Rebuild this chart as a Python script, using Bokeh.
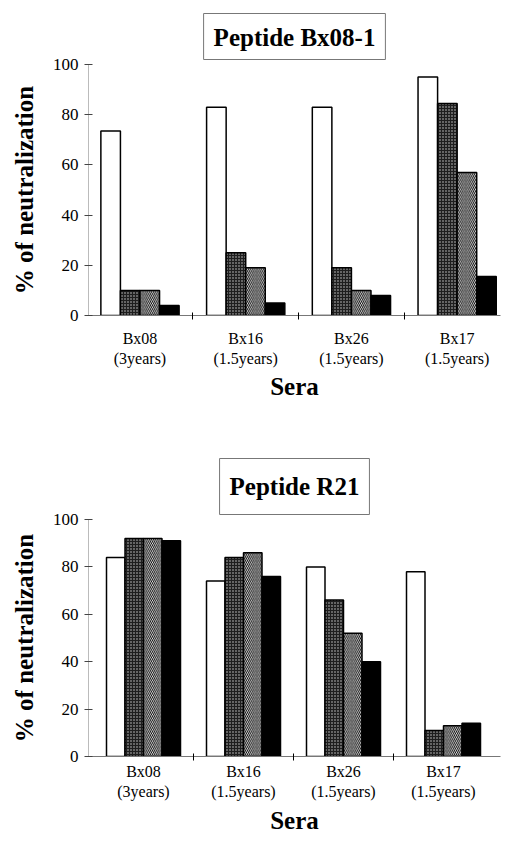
from bokeh.plotting import figure
from bokeh.models import Range1d, FixedTicker, ColumnDataSource, Title
from bokeh.layouts import column
from bokeh.transform import dodge
from bokeh.embed import file_html
from bokeh.resources import INLINE

# ---- data ----
sera = ["Bx08", "Bx16", "Bx26", "Bx17"]
sera_ages = ["(3years)", "(1.5years)", "(1.5years)", "(1.5years)"]
y_ticks = [0, 20, 40, 60, 80, 100]

bx081_white = [73.5, 83, 83, 95]
bx081_dots = [10, 25, 19, 84.5]
bx081_hatch = [10, 19, 10, 57]
bx081_black = [4, 5, 8, 15.5]

r21_white = [84, 74, 80, 78]
r21_dots = [92, 84, 66, 11]
r21_hatch = [92, 86, 52, 13]
r21_black = [91, 76, 40, 14]

FONT = "Liberation Serif"
BW = 0.185


def make_chart(title, white, dots, hatch, black, height, top, bottom, xr,
               label_standoff, xlabel_standoff, title_pad, title_offset, spacer):
    xs = list(range(len(sera)))
    src = ColumnDataSource(dict(x=xs, white=white, dots=dots, hatch=hatch, black=black))
    p = figure(width=504, height=height, output_backend="svg", toolbar_location=None,
               title=None,
               x_range=Range1d(*xr), y_range=Range1d(0, 100),
               min_border_left=88, min_border_right=4,
               min_border_top=top, min_border_bottom=bottom,
               outline_line_color=None, background_fill_color="white")
    p.grid.visible = False

    common = dict(source=src, bottom=0, width=BW, line_color="black", line_width=1.5)
    p.vbar(x=dodge("x", -1.5 * BW), top="white", fill_color="white", **common)
    p.vbar(x=dodge("x", -0.5 * BW), top="dots", fill_color="#1e1e1e",
           hatch_pattern="dot", hatch_color="#cfcfcf", hatch_scale=3, hatch_weight=1.2, **common)
    p.vbar(x=dodge("x", 0.5 * BW), top="hatch", fill_color="white",
           hatch_pattern="left_diagonal_line", hatch_color="black", hatch_scale=3.8,
           hatch_weight=1.0, **common)
    p.vbar(x=dodge("x", 1.5 * BW), top="black", fill_color="black", **common)

    xa = p.xaxis[0]
    xa.ticker = FixedTicker(ticks=xs, minor_ticks=[0.5, 1.5, 2.5])
    xa.major_label_overrides = {i: f"{s}\n{a}" for i, (s, a) in enumerate(zip(sera, sera_ages))}
    xa.major_tick_line_color = None
    xa.major_tick_out = 0
    xa.major_tick_in = 0
    xa.minor_tick_line_color = "black"
    xa.minor_tick_in = 3
    xa.minor_tick_out = 4
    xa.axis_line_color = "#777777"
    xa.major_label_text_font = FONT
    xa.major_label_text_font_size = "16px"
    xa.major_label_text_color = "black"
    xa.major_label_standoff = label_standoff
    xa.axis_label = "Sera"
    xa.axis_label_text_font = FONT
    xa.axis_label_text_font_size = "25px"
    xa.axis_label_text_font_style = "bold"
    xa.axis_label_text_color = "black"
    xa.axis_label_standoff = xlabel_standoff

    ya = p.yaxis[0]
    ya.ticker = FixedTicker(ticks=y_ticks)
    ya.minor_tick_line_color = None
    ya.major_tick_in = 4
    ya.major_tick_out = 4
    ya.major_tick_line_color = "#444444"
    ya.axis_line_color = "#777777"
    ya.axis_line_dash = "1 1"
    ya.major_label_text_font = FONT
    ya.major_label_text_font_size = "17px"
    ya.major_label_text_color = "black"
    ya.major_label_standoff = 6
    ya.axis_label = "% of neutralization"
    ya.axis_label_text_font = FONT
    ya.axis_label_text_font_size = "25px"
    ya.axis_label_text_font_style = "bold"
    ya.axis_label_text_color = "black"
    ya.axis_label_standoff = 12

    t = Title(text=title, align="center", offset=title_offset, text_font=FONT,
              text_font_size="25px", text_font_style="bold", text_color="black",
              border_line_color="#777777", border_line_width=1,
              background_fill_color="white", padding=title_pad)
    p.add_layout(t, "above")
    if spacer:
        sp = Title(text=".", text_font_size=spacer, text_alpha=0.0, standoff=0)
        p.add_layout(sp, "above")
    return p


p1 = make_chart("Peptide Bx08-1", bx081_white, bx081_dots, bx081_hatch, bx081_black,
                height=430, top=64, bottom=115, xr=(-0.487, 3.41),
                label_standoff=10, xlabel_standoff=3,
                title_pad=dict(left=10, right=10, top=10, bottom=9), title_offset=4, spacer=None)
p2 = make_chart("Peptide R21", r21_white, r21_dots, r21_hatch, r21_black,
                height=411, top=89, bottom=85, xr=(-0.55, 3.57),
                label_standoff=2, xlabel_standoff=4,
                title_pad=dict(left=10, right=10, top=14, bottom=15), title_offset=1, spacer="7px")

layout = column(p1, p2, spacing=0)
open("out.html", "w").write(file_html(layout, INLINE))
